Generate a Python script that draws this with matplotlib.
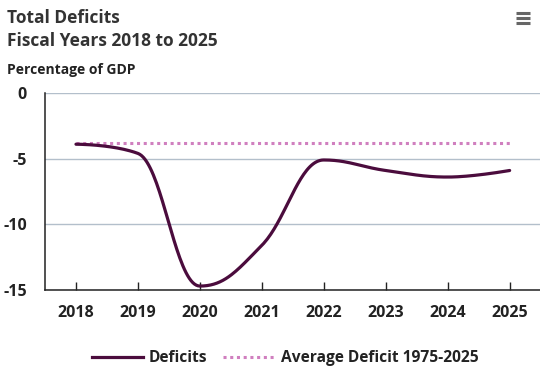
import numpy as np
import matplotlib
matplotlib.use("Agg")
import matplotlib.pyplot as plt
from matplotlib.lines import Line2D

years = [2018, 2019, 2020, 2021, 2022, 2023, 2024, 2025]
deficits = [-3.9, -4.6, -14.7, -11.6, -5.1, -5.9, -6.4, -5.9]
average_deficit = -3.8
y_ticks = [0, -5, -10, -15]

title_lines = ["Total Deficits", "Fiscal Years 2018 to 2025"]
y_title = "Percentage of GDP"
legend_labels = ["Deficits", "Average Deficit 1975-2025"]
line_color = "#4b0c3d"
avg_color = "#d07fbf"


def spline_path(xs, ys, smoothing=1.5, steps=40):
    # highcharts-style spline through the points
    xs = np.asarray(xs, float)
    ys = np.asarray(ys, float)
    n = len(xs)
    left = [(xs[i], ys[i]) for i in range(n)]
    right = [(xs[i], ys[i]) for i in range(n)]
    denom = smoothing + 1
    for i in range(1, n - 1):
        x, y = xs[i], ys[i]
        lx, ly = xs[i - 1], ys[i - 1]
        nx, ny = xs[i + 1], ys[i + 1]
        lcx = (smoothing * x + lx) / denom
        lcy = (smoothing * y + ly) / denom
        rcx = (smoothing * x + nx) / denom
        rcy = (smoothing * y + ny) / denom
        if rcx != lcx:
            corr = (rcy - lcy) * (rcx - x) / (rcx - lcx) + y - rcy
            lcy += corr
            rcy += corr
        if lcy > ly and lcy > y:
            lcy = max(ly, y)
            rcy = 2 * y - lcy
        elif lcy < ly and lcy < y:
            lcy = min(ly, y)
            rcy = 2 * y - lcy
        if rcy > ny and rcy > y:
            rcy = max(ny, y)
            lcy = 2 * y - rcy
        elif rcy < ny and rcy < y:
            rcy = min(ny, y)
            lcy = 2 * y - rcy
        left[i] = (lcx, lcy)
        right[i] = (rcx, rcy)
    t = np.linspace(0, 1, steps)
    px, py = [], []
    for i in range(n - 1):
        p0 = np.array([xs[i], ys[i]])
        p1 = np.array(right[i])
        p2 = np.array(left[i + 1])
        p3 = np.array([xs[i + 1], ys[i + 1]])
        seg = ((1 - t) ** 3)[:, None] * p0 + (3 * (1 - t) ** 2 * t)[:, None] * p1 \
            + (3 * (1 - t) * t ** 2)[:, None] * p2 + (t ** 3)[:, None] * p3
        px.extend(seg[:, 0])
        py.extend(seg[:, 1])
    return np.array(px), np.array(py)


plt.rcParams["font.family"] = ["Open Sans", "DejaVu Sans"]
fig = plt.figure(figsize=(5.4, 3.74), dpi=100)
ax = fig.add_axes([45 / 540, 1 - 290 / 374, 495 / 540, 197 / 374])

sx, sy = spline_path(years, deficits)
ax.plot(sx, sy, color=line_color, lw=2.3, solid_capstyle="round", zorder=3)
ax.plot([years[0], years[-1]], [average_deficit, average_deficit], color=avg_color,
        lw=2.2, linestyle=(0, (1, 1.2)), zorder=2)

ax.set_xlim(2017.5, 2025.49)
ax.set_ylim(-15, 0)
ax.set_xticks(years)
ax.set_yticks(y_ticks)
ax.set_xticklabels([str(y) for y in years], fontsize=11.5, fontweight=700, color="#222222")
ax.set_yticklabels([str(v) for v in y_ticks], fontsize=11.5, fontweight=700, color="#222222")
ax.tick_params(axis="x", direction="in", length=6, width=1, color="#222222", pad=11)
ax.tick_params(axis="y", length=0, pad=13)
ax.grid(axis="y", color="#b3bfcb", lw=1)
ax.set_axisbelow(True)
for s in ["top", "right"]:
    ax.spines[s].set_visible(False)
ax.spines["left"].set_color("#222222")
ax.spines["bottom"].set_color("#222222")
ax.spines["left"].set_linewidth(1.1)
ax.spines["bottom"].set_linewidth(1.1)

fig.text(7 / 540, 1 - 23 / 374, title_lines[0], fontsize=12.5, color="#333333",
         fontweight=700, va="baseline")
fig.text(7 / 540, 1 - 46 / 374, title_lines[1], fontsize=12.5, color="#333333",
         fontweight=700, va="baseline")
fig.text(7 / 540, 1 - 74 / 374, y_title, fontsize=10, color="#222222",
         fontweight=700, va="baseline")

# menu icon
for yy in [13, 18, 23]:
    fig.add_artist(Line2D([516 / 540, 530 / 540], [1 - yy / 374] * 2, color="#666666",
                          lw=2.2, solid_capstyle="butt"))

handles = [Line2D([], [], color=line_color, lw=2.3),
           Line2D([], [], color=avg_color, lw=2.2, linestyle=(0, (1, 1.2)))]
fig.legend(handles, legend_labels, loc="center",
           bbox_to_anchor=(285 / 540, 1 - 358 / 374), ncol=2, frameon=False,
           prop={"size": 11.2, "weight": 700}, handlelength=3.3, handletextpad=0.4,
           columnspacing=1.0, labelcolor="#222222")

fig.savefig("out.png", dpi=100)
